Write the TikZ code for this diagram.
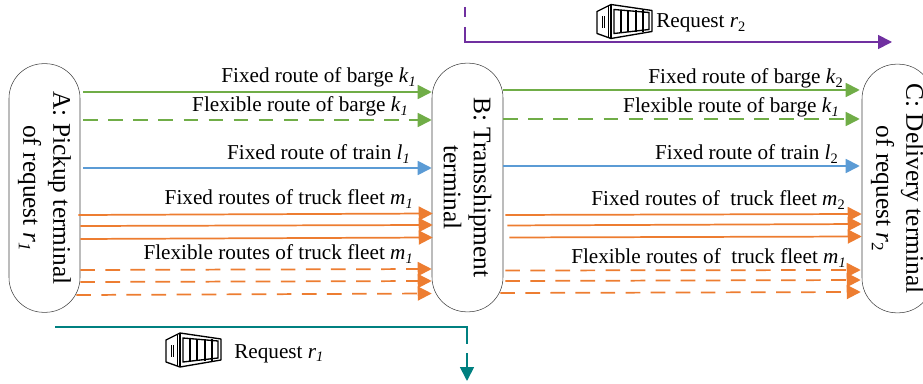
\documentclass[tikz,border=0pt]{standalone}
\usepackage{fontspec}
\setmainfont{Liberation Serif}
\usetikzlibrary{arrows.meta}

\definecolor{bargegreen}{HTML}{70AD47}
\definecolor{trainblue}{HTML}{5B9BD5}
\definecolor{truckorange}{HTML}{ED7D31}
\definecolor{requestteal}{HTML}{008080}
\definecolor{requestpurple}{HTML}{7030A0}

\newcommand{\idx}[2]{\textit{#1}\raisebox{-0.18em}{\scalebox{0.68}{#2}}}

\tikzset{
    terminal/.style={draw=black!75, thin, rotate=-90, rounded corners=26pt, minimum width=186.5pt, minimum height=53.25pt,
        inner sep=0pt, align=center, font=\fontsize{19}{22.5}\selectfont},
    routelabel/.style={anchor=base east, inner sep=0pt, font=\fontsize{15.9}{19}\selectfont},
    requestlabel/.style={anchor=base west, inner sep=0pt, font=\fontsize{15.9}{19}\selectfont},
    route/.style={line width=1.3pt, ->},
    flexible/.style={route, dash pattern=on 11pt off 7.8pt},
    container/.pic={
        \draw[line width=1pt, line join=round] (0,7) -- (14,0) -- (55,6) -- (55,27) -- (14,34) -- (0,29) -- cycle;
        \draw[line width=1pt] (14,0) -- (14,34);
        \draw[line width=0.7pt] (11,2) -- (11,33);
        \draw[line width=1pt] (17,5) -- (52,8) -- (52,25) -- (17,29) -- cycle;
        \foreach \xbar in {24,31,39,46} {
            \draw[line width=1pt] (\xbar,6) -- (\xbar,28);
        }
        \draw[line width=0.7pt] (5,12) -- (5,24);
        \draw[line width=0.7pt] (7.5,12) -- (7.5,24);
    },
}

\begin{document}
\begin{tikzpicture}[x=0.75pt, y=-0.75pt, >={Triangle[length=10.5pt,width=10.5pt]}]
    \useasboundingbox (0,0) rectangle (923,384);

    % Terminais
    \node[terminal] (A) at (44.5,188) {A: Pickup terminal\\of request \idx{r}{\textit{1}}};
    \node[terminal] (B) at (467.5,187.5) {B: Transshipment\\terminal};
    \node[terminal] (C) at (897.5,188.5) {C: Delivery terminal\\of request \idx{r}{2}};

    % Barcas e trem, A para B
    \draw[route, bargegreen, shorten <=2.25pt] (A.north |- 0,92) -- (B.south |- 0,92);
    \draw[flexible, bargegreen, shorten <=2.25pt] (A.north |- 0,120) -- (B.south |- 0,120);
    \draw[route, trainblue, shorten <=2.25pt] (A.north |- 0,168) -- (B.south |- 0,168);

    % Barcas e trem, B para C
    \draw[route, bargegreen, shorten >=1.5pt] (B.north |- 0,90) -- (C.south |- 0,90);
    \draw[flexible, bargegreen, shorten >=1.5pt] (B.north |- 0,119) -- (C.south |- 0,119);
    \draw[route, trainblue, shorten >=1.5pt] (B.north |- 0,166) -- (C.south |- 0,166);

    % Frotas de caminhoes
    \foreach \ya/\yb/\gap in {215/213.5/-1.5, 226/225/0, 239/237.5/0} {
        \draw[route, truckorange, shorten <=\gap pt, shorten >=-0.75pt] (A.north |- 0,\ya) -- (B.south |- 0,\yb);
    }
    \foreach \ya/\yb/\gap in {270/269/0, 282/281/0, 295/293.5/-3} {
        \draw[flexible, truckorange, shorten <=\gap pt] (A.north |- 0,\ya) -- (B.south |- 0,\yb);
    }
    \foreach \ya/\yb/\gap in {215/214/1.5, 225.5/224/3, 237.5/236.5/4.5} {
        \draw[route, truckorange, shorten <=\gap pt] (B.north |- 0,\ya) -- (C.south |- 0,\yb);
    }
    \foreach \ya/\yb/\gap in {270.5/270/1.5, 281/280/1.5, 293/292/-2.25} {
        \draw[flexible, truckorange, shorten <=\gap pt, shorten >=0.75pt] (B.north |- 0,\ya) -- (C.south |- 0,\yb);
    }

    % Rotulos das rotas
    \node[routelabel] (fixbargeAB) at (416,83) {Fixed route of barge \idx{k}{\textit{1}}};
    \node[routelabel] (flexbargeAB) at (408,112) {Flexible route of barge \idx{k}{\textit{1}}};
    \node[routelabel] (trainAB) at (410,160) {Fixed route of train \idx{l}{\textit{1}}};
    \node[routelabel] (fixtruckAB) at (413,205) {Fixed routes of truck fleet \idx{m}{\textit{1}}};
    \node[routelabel] (flextruckAB) at (413,260) {Flexible routes of truck fleet \idx{m}{\textit{1}}};

    \node[routelabel] (fixbargeBC) at (843,84) {Fixed route of barge \idx{k}{2}};
    \node[routelabel] (flexbargeBC) at (839,113) {Flexible route of barge \idx{k}{\textit{1}}};
    \node[routelabel] (trainBC) at (838,160) {Fixed route of train \idx{l}{2}};
    \node[routelabel] (fixtruckBC) at (845,206) {Fixed routes of\ \ truck fleet \idx{m}{2}};
    \node[routelabel] (flextruckBC) at (846,264) {Flexible routes of\ \ truck fleet \idx{m}{\textit{1}}};

    % Pedido r1
    \coordinate (startone) at (55,327);
    \coordinate (cornerone) at (467,327);
    \coordinate (gapone) at (467,344);
    \coordinate (resumeone) at (467,353);
    \coordinate (endone) at (467,381);
    \draw[line width=1.3pt, requestteal] (startone) -- (cornerone) -- (gapone);
    \draw[route, requestteal] (resumeone) -- (endone);
    \pic at (166,333) {container};
    \node[requestlabel] (requestone) at (234,358) {Request \idx{r}{\textit{1}}};

    % Pedido r2
    \coordinate (starttwo) at (465,7);
    \coordinate (gaptwo) at (465,17);
    \coordinate (resumetwo) at (465,27);
    \coordinate (cornertwo) at (465,42);
    \coordinate (endtwo) at (892,42);
    \draw[line width=1.3pt, requestpurple] (starttwo) -- (gaptwo);
    \draw[route, requestpurple] (resumetwo) -- (cornertwo) -- (endtwo);
    \pic at (597,4.5) {container};
    \node[requestlabel] (requesttwo) at (656,28) {Request \idx{r}{2}};

\end{tikzpicture}
\end{document}
